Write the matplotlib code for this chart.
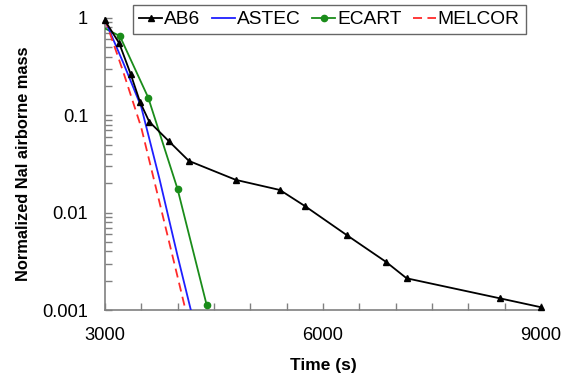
import matplotlib
matplotlib.use("Agg")
import matplotlib.pyplot as plt
from matplotlib.ticker import FixedLocator, LogLocator, NullFormatter

plt.rcParams['font.family'] = ['Liberation Sans', 'DejaVu Sans']

ab6_t = [3000, 3197, 3354, 3482, 3610, 3877, 4156, 4803, 5408, 5752, 6326, 6867, 7152, 8436, 9000]
ab6_v = [0.94, 0.55, 0.266, 0.138, 0.086, 0.0545, 0.034, 0.0217, 0.0171, 0.0117, 0.0059, 0.00313, 0.00212, 0.00132, 0.00107]

astec_t = [3000, 3250, 3500, 3750, 4000, 4183]
astec_v = [0.95, 0.35, 0.122, 0.0224, 0.0036, 0.001]

ecart_t = [3000, 3206, 3596, 4000, 4399]
ecart_v = [0.78, 0.65, 0.152, 0.0175, 0.00114]

melcor_t = [3000, 3250, 3500, 3750, 4000, 4110]
melcor_v = [0.98, 0.283, 0.075, 0.0129, 0.0022, 0.001]

x_ticks = [3000, 6000, 9000]
y_ticks = [0.001, 0.01, 0.1, 1]
y_labels = ['0.001', '0.01', '0.1', '1']

fig = plt.figure(figsize=(5.7, 3.8), dpi=100)
ax = fig.add_axes([0.184, 0.184, 0.765, 0.769])

ax.plot(ab6_t, ab6_v, color='black', lw=1.3, marker='^', ms=4.5, label='AB6', clip_on=False, zorder=5)
ax.plot(astec_t, astec_v, color='#1f1fff', lw=1.3, label='ASTEC', zorder=4)
ax.plot(ecart_t, ecart_v, color='#1a8c1a', lw=1.3, marker='o', ms=4.5, markevery=[1, 2, 3, 4], label='ECART', zorder=3)
ax.plot(melcor_t, melcor_v, color='#ff2a2a', lw=1.3, ls=(0, (5, 3)), label='MELCOR', zorder=4)

ax.set_yscale('log')
ax.set_xlim(3000, 9000)
ax.set_ylim(0.001, 1)
ax.set_xticks(x_ticks)
ax.set_xticklabels([str(v) for v in x_ticks])
ax.xaxis.set_minor_locator(FixedLocator(list(range(3000, 9001, 500))))
ax.set_yticks(y_ticks)
ax.set_yticklabels(y_labels)
ax.yaxis.set_minor_locator(LogLocator(base=10, subs=range(2, 10)))
ax.yaxis.set_minor_formatter(NullFormatter())

for s in ['top', 'right']:
    ax.spines[s].set_visible(False)
for s in ['left', 'bottom']:
    ax.spines[s].set_color('#808080')
    ax.spines[s].set_linewidth(1.2)

ax.tick_params(which='both', direction='in', color='#808080', labelsize=13.2, width=1)
ax.tick_params(which='major', length=5)
ax.tick_params(which='minor', length=5)
ax.tick_params(axis='x', pad=12)
ax.tick_params(axis='y', pad=12)

ax.set_xlabel('Time (s)', fontsize=12.5, fontweight='bold', labelpad=10)
ax.set_ylabel('Normalized NaI airborne mass', fontsize=11.8, fontweight='bold', labelpad=8)

leg = ax.legend(loc='upper center', bbox_to_anchor=(0.515, 1.045), ncol=4, fontsize=13.8,
                frameon=True, fancybox=False, edgecolor='#404040', handlelength=1.2,
                handletextpad=0.1, columnspacing=0.6, borderpad=0.32, borderaxespad=0)
leg.get_frame().set_linewidth(1.0)

fig.savefig('out.png', dpi=100)
